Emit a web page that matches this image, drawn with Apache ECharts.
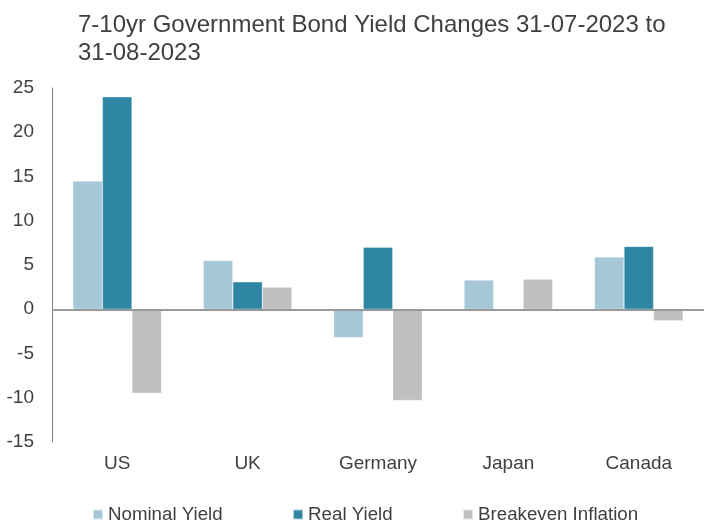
<!DOCTYPE html>
<html>
<head>
<meta charset="utf-8">
<script src="https://cdn.jsdelivr.net/npm/echarts@6/dist/echarts.min.js"></script>
<style>html,body{margin:0;padding:0;background:#fff;}#c{width:705px;height:522px;}</style>
</head>
<body>
<div id="c"></div>
<script>
var categories = ['US', 'UK', 'Germany', 'Japan', 'Canada'];
var nominalYield = [14.5, 5.5, -3.2, 3.3, 5.9];
var realYield = [24.0, 3.1, 7.0, -0.1, 7.1];
var breakevenInflation = [-9.5, 2.5, -10.3, 3.4, -1.3];
var yTicks = [-15, 25, 5];

var chart = echarts.init(document.getElementById('c'), null, {renderer: 'canvas'});
var font = '"Liberation Sans", Arial, sans-serif';
var txt = '#404040';
function barSeries(name, data, color) {
  return {
    name: name, type: 'bar', data: data, barGap: '0%', barCategoryGap: '32%',
    itemStyle: {color: color, borderColor: 'rgba(255,255,255,0.6)', borderWidth: 0.5},
    emphasis: {disabled: true}
  };
}
var s1 = barSeries('Nominal Yield', nominalYield, '#a5c7d7');
s1.markLine = {
  silent: true, symbol: ['none', 'none'], label: {show: false},
  lineStyle: {color: '#999999', width: 2, type: 'solid'},
  data: [{yAxis: 0}], z: 10
};
chart.setOption({
  animation: false,
  textStyle: {fontFamily: font},
  title: {
    text: '7-10yr Government Bond Yield Changes 31-07-2023 to\n31-08-2023',
    left: 73, top: 6,
    textStyle: {fontFamily: font, fontSize: 24, fontWeight: 'normal', color: txt, lineHeight: 28}
  },
  legend: {
    top: 500, left: 87, itemWidth: 10, itemHeight: 10, itemGap: 69.5, icon: 'rect',
    textStyle: {fontFamily: font, fontSize: 18.7, lineHeight: 19, color: txt},
    data: ['Nominal Yield', 'Real Yield', 'Breakeven Inflation']
  },
  grid: {left: 52, right: 1, top: 88, bottom: 80, containLabel: false},
  xAxis: {
    type: 'category', data: categories,
    axisLine: {show: false, onZero: false}, axisTick: {show: false},
    axisLabel: {fontFamily: font, fontSize: 19, color: txt, margin: 12}
  },
  yAxis: {
    type: 'value', min: yTicks[0], max: yTicks[1], interval: yTicks[2],
    axisLine: {show: true, lineStyle: {color: '#808080', width: 1}},
    axisTick: {show: false}, splitLine: {show: false},
    axisLabel: {fontFamily: font, fontSize: 19, color: txt, margin: 18}
  },
  series: [
    s1,
    barSeries('Real Yield', realYield, '#2e86a4'),
    barSeries('Breakeven Inflation', breakevenInflation, '#bfbfbf')
  ]
});
</script>
</body>
</html>
